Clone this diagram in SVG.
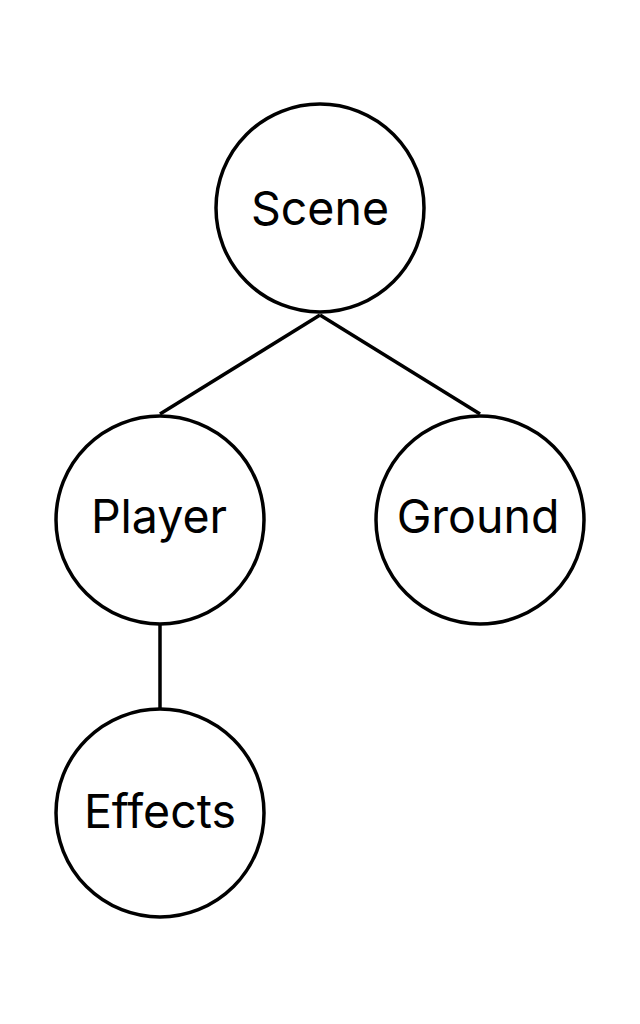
<svg xmlns="http://www.w3.org/2000/svg" width="640" height="1024" viewBox="0 0 640 1024">
<style>
.n circle{fill:#fff;stroke:#000;stroke-width:3.5}
.n text{font-family:Inter,"Noto Sans",sans-serif;font-size:46.5px;text-anchor:middle;fill:#000}
.e line{stroke:#000;stroke-width:3.5}
</style>
<rect width="640" height="1024" fill="#fff"/>
<g id="connectors" class="e">
<line x1="320" y1="315" x2="160" y2="414"/>
<line x1="320" y1="315" x2="480" y2="414"/>
<line x1="160" y1="625" x2="160" y2="710"/>
</g>
<g id="scene" class="n"><circle cx="320" cy="208" r="104"/><text x="320" y="225">Scene</text></g>
<g id="player" class="n"><circle cx="160" cy="520" r="104"/><text x="159" y="533">Player</text></g>
<g id="ground" class="n"><circle cx="480" cy="520" r="104"/><text x="478" y="533">Ground</text></g>
<g id="effects" class="n"><circle cx="160" cy="813" r="104"/><text x="160" y="828">Effects</text></g>
</svg>
